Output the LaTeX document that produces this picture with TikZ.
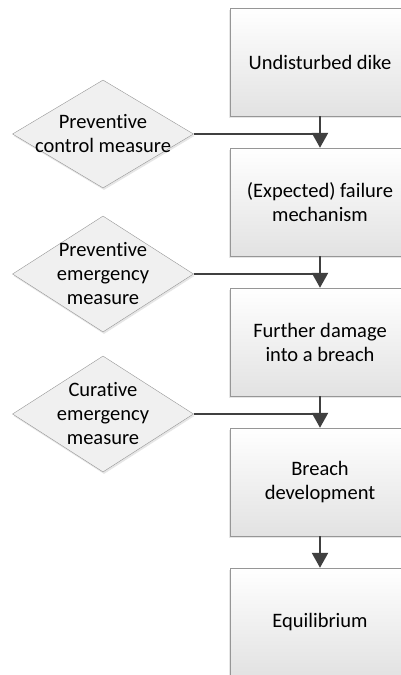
\documentclass[tikz,border=0pt]{standalone}
\usepackage{fontspec}
\setmainfont{Carlito}[Ligatures=NoCommon]
\usepackage{tikz}
\usetikzlibrary{arrows.meta,shapes.geometric,shadows}
\definecolor{stageline}{RGB}{150,150,150}
\definecolor{stageshade}{RGB}{226,226,226}
\definecolor{measurefill}{RGB}{240,240,240}
\definecolor{flowgray}{RGB}{64,64,64}

\begin{document}
\begin{tikzpicture}[x=1pt,y=-1pt,
    txt/.style={font=\fontsize{20.5}{24}\selectfont,align=center},
    stage/.style={draw=stageline,top color=white,bottom color=stageshade,
      minimum width=180pt,minimum height=108pt,inner sep=0pt,txt,
      drop shadow={shadow xshift=-1pt,shadow yshift=-2pt,opacity=0.2}},
    measure/.style={diamond,draw=stageline,fill=measurefill,inner sep=0pt,
      minimum width=181pt,minimum height=#1,
      drop shadow={shadow xshift=1pt,shadow yshift=-2pt,opacity=0.2}},
    flow/.style={flowgray,line width=2.4pt,-{Triangle[length=15pt,width=16pt]}},
    feed/.style={flowgray,line width=2.4pt}]
    \useasboundingbox (0,0) rectangle (401,675);

    % dike stages, top to bottom
    \node[stage] (dike) at (320,62) {Undisturbed dike};
    \node[stage] (fail) at (320,202) {(Expected) failure\\mechanism};
    \node[stage] (damage) at (320,342) {Further damage\\into a breach};
    \node[stage] (breach) at (320,482) {Breach\\development};
    \node[stage] (equil) at (320,622) {Equilibrium};

    % measures on the left
    \node[measure=108pt,label={[txt]center:Preventive\\control measure}] (control) at (103,134) {};
    \node[measure=116pt,label={[txt]center:Preventive\\emergency\\measure}] (prevent) at (103,274) {};
    \node[measure=116pt,label={[txt]center:Curative\\emergency\\measure}] (cure) at (103,414) {};

    % stage flow
    \draw[flow] (dike) -- (fail);
    \draw[flow] (fail) -- (damage);
    \draw[flow] (damage) -- (breach);
    \draw[flow] (breach) -- (equil);

    % measures feeding into the flow
    \draw[feed] (control.east) -- (control.east -| dike);
    \draw[feed] (prevent.east) -- (prevent.east -| fail);
    \draw[feed] (cure.east) -- (cure.east -| damage);
\end{tikzpicture}
\end{document}
